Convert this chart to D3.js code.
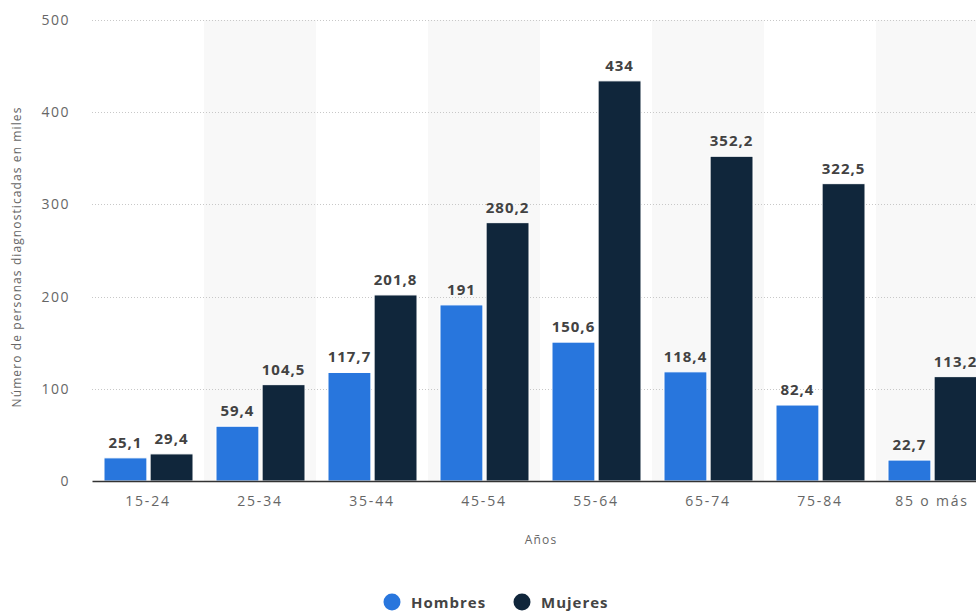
<!DOCTYPE html>
<html>
<head>
<meta charset="utf-8">
<script src="https://cdn.jsdelivr.net/npm/d3@7"></script>
<style>
  body { margin: 0; background: #fff; }
  text { font-family: 'Open Sans', sans-serif; }
</style>
</head>
<body>
<div id="chart"></div>
<script>
// Data
const categories = ['15-24', '25-34', '35-44', '45-54', '55-64', '65-74', '75-84', '85 o más'];
const hombres = [25.1, 59.4, 117.7, 191, 150.6, 118.4, 82.4, 22.7];
const mujeres = [29.4, 104.5, 201.8, 280.2, 434, 352.2, 322.5, 113.2];
const seriesNames = ['Hombres', 'Mujeres'];
const seriesColors = ['#2876dd', '#10263b'];
const yTicks = [0, 100, 200, 300, 400, 500];

const width = 976;
const height = 611;
const margin = { top: 20, right: -12, bottom: 130, left: 92 };
const innerW = width - margin.left - margin.right;
const innerH = height - margin.top - margin.bottom;

const svg = d3.select('#chart').append('svg')
  .attr('width', width)
  .attr('height', height);

const g = svg.append('g')
  .attr('transform', `translate(${margin.left}, ${margin.top})`);

const x = d3.scaleBand().domain(categories).range([0, innerW]).padding(0);
const x1 = d3.scaleBand().domain(seriesNames).range([12, x.bandwidth() - 11]).paddingInner(0.07);
const y = d3.scaleLinear().domain([0, 500]).range([innerH, 0]);

// alternating bands
g.append('g').selectAll('rect')
  .data(categories.filter((c, i) => i % 2 === 1))
  .enter().append('rect')
  .attr('x', d => x(d))
  .attr('y', 0)
  .attr('width', x.bandwidth())
  .attr('height', innerH)
  .attr('fill', '#f8f8f8');

// grid lines
g.append('g').selectAll('line')
  .data(yTicks.filter(t => t > 0))
  .enter().append('line')
  .attr('x1', 0)
  .attr('x2', innerW)
  .attr('y1', d => Math.round(y(d)) + 0.5)
  .attr('y2', d => Math.round(y(d)) + 0.5)
  .attr('stroke', '#c8c8c8')
  .attr('stroke-dasharray', '1,2');

// y axis labels
const yAxis = d3.axisLeft(y).tickValues(yTicks).tickSize(0).tickPadding(22);
g.append('g')
  .call(yAxis)
  .call(s => s.select('.domain').remove())
  .selectAll('text')
  .attr('font-size', 14)
  .attr('letter-spacing', 1.5)
  .attr('fill', '#666');

// bars
const groups = g.append('g').selectAll('g')
  .data(categories)
  .enter().append('g')
  .attr('transform', d => `translate(${x(d)}, 0)`);

const values = [hombres, mujeres];
groups.selectAll('rect')
  .data((d, i) => seriesNames.map((s, k) => ({ s, k, v: values[k][i] })))
  .enter().append('rect')
  .attr('x', d => x1(d.s))
  .attr('y', d => y(d.v))
  .attr('width', x1.bandwidth())
  .attr('height', d => innerH - y(d.v))
  .attr('fill', d => seriesColors[d.k])
  .attr('stroke', '#fff')
  .attr('stroke-width', 1);

groups.selectAll('text')
  .data((d, i) => seriesNames.map((s, k) => ({ s, k, v: values[k][i] })))
  .enter().append('text')
  .attr('x', d => x1(d.s) + x1.bandwidth() / 2)
  .attr('y', d => y(d.v) - 10)
  .attr('text-anchor', 'middle')
  .attr('font-size', 15)
  .attr('font-weight', 'bold')
  .attr('letter-spacing', 1)
  .attr('fill', '#424242')
  .text(d => String(d.v).replace('.', ','));

// x axis
const xAxis = d3.axisBottom(x).tickSize(0).tickPadding(15);
g.append('g')
  .attr('transform', `translate(0, ${innerH})`)
  .call(xAxis)
  .call(s => s.select('.domain').attr('stroke', '#333').attr('stroke-width', 1.5))
  .selectAll('text')
  .attr('font-size', 14)
  .attr('letter-spacing', 1.8)
  .attr('fill', '#666');

// axis titles
svg.append('text')
  .attr('x', 541)
  .attr('y', 544)
  .attr('text-anchor', 'middle')
  .attr('font-size', 12)
  .attr('letter-spacing', 1.2)
  .attr('fill', '#666')
  .text('Años');

svg.append('text')
  .attr('transform', 'translate(21, 257) rotate(-90)')
  .attr('text-anchor', 'middle')
  .attr('font-size', 12)
  .attr('letter-spacing', 1.1)
  .attr('fill', '#666')
  .text('Número de personas diagnosticadas en miles');

// legend
const legend = svg.append('g').attr('transform', 'translate(392, 602)');
const legendX = [0, 130];
seriesNames.forEach((s, i) => {
  const lg = legend.append('g').attr('transform', `translate(${legendX[i]}, 0)`);
  lg.append('circle').attr('r', 8.5).attr('cx', 0).attr('cy', 0).attr('fill', seriesColors[i]);
  lg.append('text')
    .attr('x', 19)
    .attr('y', 5.5)
    .attr('font-size', 15)
    .attr('font-weight', 'bold')
    .attr('letter-spacing', 1)
    .attr('fill', '#444')
    .text(s);
});
</script>
</body>
</html>
